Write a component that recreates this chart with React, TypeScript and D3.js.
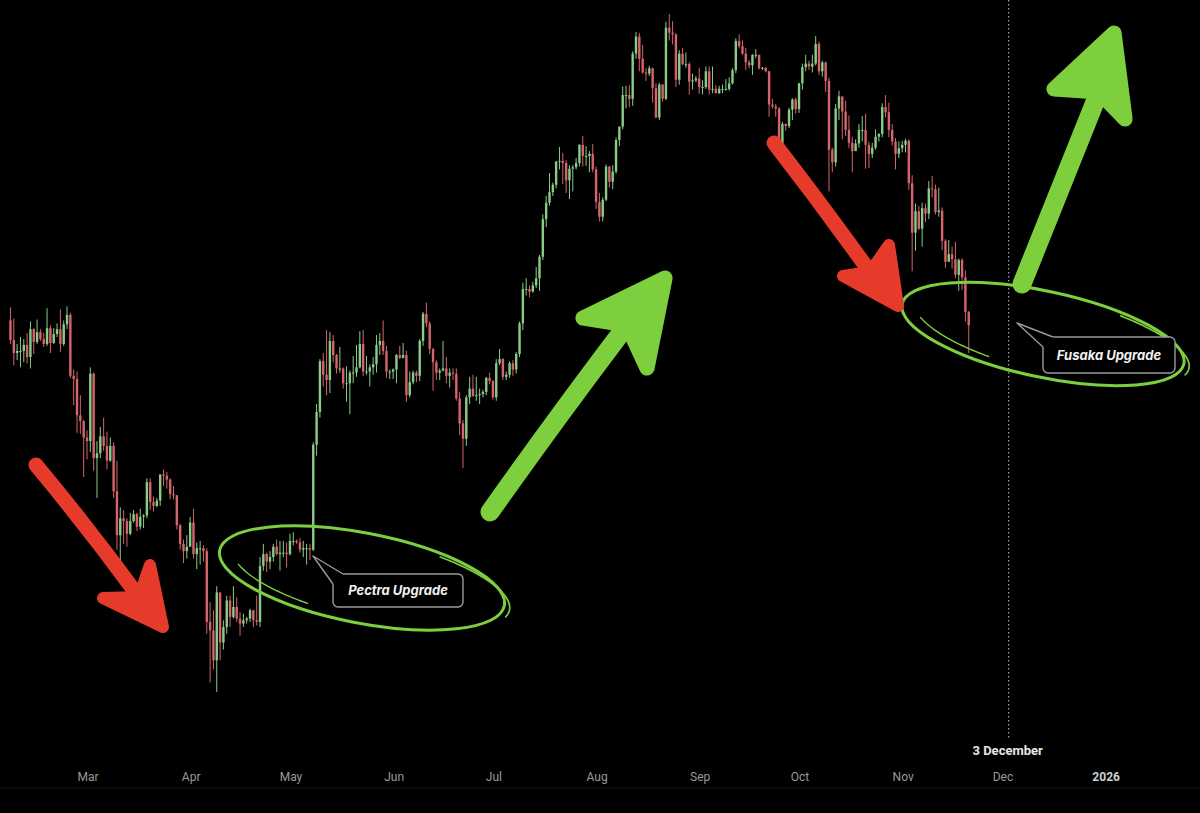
import React from "react";
import * as d3 from "d3";

type HLC = [number, number, number]; // high, low, close (open = previous close)

const START = Date.UTC(2025, 1, 6);
const FIRST_OPEN = 2785;

const feb: HLC[] = [
  [2855, 2665, 2685], [2795, 2560, 2620], [2665, 2585, 2630], [2700, 2550, 2630], [2690, 2575, 2660],
  [2720, 2570, 2600], [2780, 2545, 2740], [2745, 2615, 2675], [2790, 2665, 2725], [2740, 2680, 2690],
  [2720, 2650, 2665], [2850, 2655, 2745], [2760, 2620, 2670], [2745, 2665, 2715], [2770, 2700, 2740],
  [2845, 2625, 2665], [2785, 2655, 2765], [2860, 2740, 2815], [2825, 2500, 2510], [2540, 2375, 2495],
  [2530, 2255, 2330], [2420, 2250, 2305], [2310, 2075, 2235],
];
const mar: HLC[] = [
  [2265, 2145, 2220], [2550, 2175, 2520], [2525, 2100, 2150], [2220, 1995, 2170], [2280, 2150, 2240],
  [2320, 2180, 2200], [2260, 2105, 2140], [2235, 2135, 2200], [2215, 1995, 2020], [2140, 1810, 1860],
  [1960, 1755, 1920], [1950, 1830, 1910], [1920, 1820, 1865], [1940, 1860, 1910], [1950, 1905, 1935],
  [1940, 1875, 1890], [1955, 1880, 1925], [1935, 1885, 1930], [2070, 1920, 2055], [2070, 1950, 1980],
  [2000, 1945, 1965], [1995, 1960, 1985], [2085, 1965, 2085], [2105, 2040, 2080], [2095, 2030, 2065],
  [2070, 1990, 2010], [2040, 1990, 2005], [2005, 1880, 1895], [1900, 1810, 1830], [1845, 1765, 1805],
  [1860, 1780, 1820],
];
const apr: HLC[] = [
  [1925, 1820, 1905], [1955, 1780, 1795], [1835, 1745, 1815], [1840, 1760, 1815], [1825, 1770, 1805],
  [1815, 1545, 1580], [1640, 1410, 1555], [1615, 1445, 1470], [1690, 1385, 1670], [1670, 1470, 1520],
  [1585, 1500, 1565], [1660, 1545, 1645], [1660, 1565, 1595], [1690, 1590, 1625], [1655, 1580, 1590],
  [1610, 1540, 1575], [1605, 1565, 1585], [1595, 1575, 1590], [1620, 1580, 1615], [1615, 1565, 1585],
  [1660, 1570, 1580], [1785, 1565, 1755], [1830, 1740, 1795], [1800, 1735, 1770], [1805, 1745, 1785],
  [1830, 1770, 1820], [1845, 1790, 1795], [1840, 1740, 1800], [1840, 1785, 1800], [1835, 1750, 1795],
];
const may: HLC[] = [
  [1865, 1790, 1840], [1870, 1825, 1840], [1845, 1830, 1835], [1850, 1800, 1810], [1840, 1785, 1815],
  [1830, 1760, 1815], [1830, 1775, 1810], [2215, 1805, 2205], [2380, 2160, 2345], [2590, 2320, 2580],
  [2620, 2460, 2515], [2735, 2420, 2490], [2725, 2430, 2680], [2710, 2575, 2610], [2615, 2520, 2545],
  [2650, 2525, 2545], [2550, 2450, 2475], [2555, 2390, 2475], [2535, 2335, 2525], [2605, 2475, 2525],
  [2660, 2505, 2550], [2730, 2545, 2665], [2735, 2510, 2530], [2605, 2515, 2530], [2565, 2460, 2550],
  [2600, 2515, 2565], [2710, 2525, 2660], [2720, 2610, 2680], [2785, 2610, 2630], [2655, 2500, 2530],
  [2540, 2495, 2530],
];
const jun: HLC[] = [
  [2545, 2495, 2540], [2615, 2475, 2610], [2655, 2590, 2595], [2670, 2595, 2610], [2630, 2390, 2420],
  [2530, 2410, 2480], [2535, 2470, 2525], [2535, 2480, 2510], [2690, 2485, 2680], [2830, 2655, 2820],
  [2880, 2750, 2770], [2780, 2615, 2640], [2645, 2440, 2575], [2585, 2490, 2525], [2545, 2490, 2535],
  [2680, 2530, 2545], [2600, 2475, 2510], [2545, 2455, 2525], [2545, 2490, 2520], [2545, 2395, 2405],
  [2435, 2245, 2295], [2310, 2110, 2230], [2420, 2200, 2410], [2505, 2380, 2450], [2515, 2415, 2415],
  [2505, 2395, 2420], [2450, 2380, 2425], [2445, 2410, 2435], [2505, 2420, 2500], [2525, 2470, 2485],
];
const jul: HLC[] = [
  [2490, 2400, 2410], [2590, 2395, 2570], [2640, 2560, 2590], [2595, 2490, 2505], [2530, 2490, 2515],
  [2580, 2500, 2570], [2585, 2510, 2540], [2625, 2520, 2615], [2780, 2600, 2770], [2990, 2735, 2955],
  [3015, 2920, 2955], [2975, 2910, 2940], [2995, 2935, 2975], [3080, 2960, 3015], [3150, 2945, 3140],
  [3400, 3120, 3370], [3520, 3320, 3475], [3675, 3455, 3545], [3610, 3520, 3595], [3760, 3570, 3755],
  [3860, 3700, 3760], [3815, 3600, 3745], [3765, 3540, 3625], [3730, 3500, 3705], [3730, 3550, 3715],
  [3780, 3700, 3745], [3880, 3720, 3875], [3940, 3720, 3795], [3865, 3725, 3795], [3830, 3680, 3810],
  [3880, 3680, 3700],
];
const aug: HLC[] = [
  [3720, 3435, 3480], [3540, 3355, 3385], [3510, 3355, 3495], [3735, 3485, 3720], [3725, 3575, 3615],
  [3730, 3565, 3685], [3930, 3670, 3910], [4010, 3865, 4010], [4325, 3990, 4255], [4330, 4150, 4255],
  [4335, 4160, 4225], [4620, 4170, 4600], [4790, 4555, 4750], [4780, 4450, 4555], [4675, 4430, 4440],
  [4475, 4370, 4430], [4495, 4410, 4475], [4480, 4195, 4310], [4350, 4075, 4080], [4355, 4060, 4340],
  [4345, 4205, 4225], [4885, 4215, 4830], [4956, 4715, 4785], [4890, 4680, 4770], [4780, 4320, 4380],
  [4630, 4340, 4600], [4650, 4500, 4510], [4610, 4480, 4510], [4525, 4260, 4365], [4430, 4300, 4375],
  [4410, 4360, 4390],
];
const sep: HLC[] = [
  [4480, 4265, 4320], [4375, 4260, 4320], [4490, 4305, 4450], [4490, 4260, 4300], [4490, 4270, 4305],
  [4335, 4270, 4270], [4330, 4265, 4305], [4340, 4270, 4305], [4385, 4290, 4305], [4400, 4290, 4350],
  [4475, 4340, 4460], [4735, 4435, 4710], [4770, 4645, 4665], [4715, 4590, 4600], [4650, 4460, 4525],
  [4545, 4475, 4500], [4595, 4420, 4590], [4640, 4560, 4590], [4590, 4465, 4475], [4485, 4460, 4480],
  [4485, 4440, 4450], [4455, 4085, 4180], [4225, 4150, 4165], [4185, 4085, 4150], [4160, 3830, 3870],
  [4045, 3840, 4030], [4035, 3980, 4015], [4155, 4000, 4140], [4230, 4060, 4220], [4235, 4110, 4145],
];
const oct: HLC[] = [
  [4355, 4115, 4350], [4515, 4300, 4485], [4590, 4450, 4515], [4540, 4460, 4490], [4590, 4440, 4515],
  [4755, 4500, 4685], [4705, 4420, 4450], [4540, 4405, 4525], [4530, 4280, 4370], [4395, 3550, 3840],
  [3855, 3680, 3750], [4185, 3720, 4150], [4290, 4060, 4245], [4235, 3915, 4125], [4210, 3940, 3985],
  [4095, 3850, 3890], [3935, 3680, 3830], [3915, 3830, 3885], [4030, 3855, 3985], [4090, 3900, 3985],
  [4110, 3705, 3875], [3900, 3710, 3810], [3890, 3780, 3855], [3990, 3840, 3935], [3960, 3900, 3955],
  [4190, 3930, 4160], [4255, 4080, 4120], [4195, 3930, 3985], [4030, 3870, 3900], [3925, 3700, 3810],
  [3900, 3780, 3850],
];
const nov: HLC[] = [
  [3905, 3820, 3875], [3920, 3820, 3905], [3915, 3560, 3605], [3660, 3055, 3285], [3470, 3175, 3420],
  [3455, 3300, 3310], [3475, 3200, 3440], [3470, 3350, 3405], [3620, 3370, 3570], [3655, 3510, 3565],
  [3595, 3400, 3415], [3575, 3385, 3425], [3445, 3180, 3235], [3245, 3075, 3110], [3240, 3115, 3155],
  [3200, 3070, 3125], [3230, 3015, 3035], [3130, 2945, 3120], [3130, 2950, 3020], [3060, 2780, 2830],
  [2835, 2620, 2760],
];

const monthLabels = ["Mar", "Apr", "May", "Jun", "Jul", "Aug", "Sep", "Oct", "Nov", "Dec", "2026"];
const monthDates = [
  Date.UTC(2025, 2, 1), Date.UTC(2025, 3, 1), Date.UTC(2025, 4, 1), Date.UTC(2025, 5, 1),
  Date.UTC(2025, 6, 1), Date.UTC(2025, 7, 1), Date.UTC(2025, 8, 1), Date.UTC(2025, 9, 1),
  Date.UTC(2025, 10, 1), Date.UTC(2025, 11, 1), Date.UTC(2026, 0, 1),
];
const markerDate = Date.UTC(2025, 11, 3);
const markerLabel = "3 December";
const calloutLabels = ["Pectra Upgrade", "Fusaka Upgrade"];

const GREEN = "#8acb87";
const RED = "#d6646c";
const ARROW_RED = "#e63b2a";
const ARROW_GREEN = "#7dcf3e";

type Pt = [number, number];

function Arrow({ from, mid, tip, w1, w2, notch, color, width }: {
  from: Pt; mid: Pt; tip: Pt; w1: Pt; w2: Pt; notch: Pt; color: string; width: number;
}) {
  const shaft = `M${from[0]},${from[1]} Q${mid[0]},${mid[1]} ${notch[0]},${notch[1]}`;
  const head = `M${w1[0]},${w1[1]} L${tip[0]},${tip[1]} L${w2[0]},${w2[1]} L${notch[0]},${notch[1]} Z`;
  return (
    <g>
      <path d={shaft} fill="none" stroke={color} strokeWidth={width} strokeLinecap="round" />
      <path d={head} fill={color} stroke={color} strokeWidth={width * 0.8} strokeLinejoin="round" />
    </g>
  );
}

function Callout({ x, y, w, h, tip, label }: { x: number; y: number; w: number; h: number; tip: Pt; label: string }) {
  const p1: Pt = [x + 9, y];
  const p2: Pt = [x, y + 9];
  return (
    <g>
      <rect x={x} y={y} width={w} height={h} rx={5} fill="#000" stroke="#9a9a9a" strokeWidth={1.4} />
      <path d={`M${p2[0]},${p2[1] + 1} L${tip[0]},${tip[1]} L${p1[0] + 1},${p1[1]}`} fill="#000" stroke="#9a9a9a" strokeWidth={1.4} strokeLinejoin="round" />
      <path d={`M${p2[0] + 1},${p2[1] + 1} L${p1[0] + 1},${p1[1] + 1}`} stroke="#000" strokeWidth={2.5} />
      <text x={x + w / 2} y={y + h / 2 + 4.5} textAnchor="middle" fill="#f2f2f2"
        style={{ fontFamily: "Inter, 'Open Sans', sans-serif", fontStyle: "italic", fontWeight: 700, fontSize: 13 }}>
        {label}
      </text>
    </g>
  );
}

function arcPath(cx: number, cy: number, rx: number, ry: number, rotDeg: number, t0: number, t1: number) {
  const r = (rotDeg * Math.PI) / 180;
  const pts: Pt[] = d3.range(0, 41).map((i) => {
    const t = ((t0 + ((t1 - t0) * i) / 40) * Math.PI) / 180;
    const ex = rx * Math.cos(t);
    const ey = ry * Math.sin(t);
    return [cx + ex * Math.cos(r) - ey * Math.sin(r), cy + ex * Math.sin(r) + ey * Math.cos(r)];
  });
  return d3.line()(pts) || "";
}

function Loop({ cx, cy, rx, ry, rot }: { cx: number; cy: number; rx: number; ry: number; rot: number }) {
  return (
    <g fill="none" stroke={ARROW_GREEN} strokeLinecap="round">
      <ellipse cx={cx} cy={cy} rx={rx} ry={ry} transform={`rotate(${rot} ${cx} ${cy})`} strokeWidth={3} />
      <path d={arcPath(cx + 2, cy, rx + 4, ry - 3, rot + 1.5, -62, 10)} strokeWidth={1.7} />
      <path d={arcPath(cx + 4, cy - 3, rx - 8, ry - 2, rot + 1, 112, 158)} strokeWidth={1.4} />
    </g>
  );
}

export default function App() {
  const W = 1200;
  const H = 813;
  const x = d3.scaleUtc().domain([new Date(Date.UTC(2025, 2, 1)), new Date(Date.UTC(2025, 11, 1))]).range([88, 1003]);
  const y = d3.scaleLog().domain([1385, 4956]).range([692, 14]);

  const all = [feb, mar, apr, may, jun, jul, aug, sep, oct, nov].flat();
  let prev = FIRST_OPEN;
  const candles = all.map((d, i) => {
    const o = prev;
    prev = d[2];
    return { date: d3.utcDay.offset(new Date(START), i), o, h: d[0], l: d[1], c: d[2] };
  });
  const bw = 2.4;
  const mx = x(new Date(markerDate));

  return (
    <>
      <style>{`body{margin:0;background:#000;}`}</style>
      <svg width={W} height={H} style={{ display: "block", background: "#000" }}>
        <rect x={0} y={0} width={W} height={H} fill="#000" />
        {/* marker line */}
        <line x1={mx - 1} x2={mx - 1} y1={0} y2={738} stroke="#9a9a9a" strokeWidth={1.3} strokeDasharray="1.5 2.5" />
        {/* candles */}
        <g>
          {candles.map((k, i) => {
            const cx = x(k.date) - 1;
            const up = k.c >= k.o;
            const col = up ? GREEN : RED;
            const top = y(Math.max(k.o, k.c));
            const bot = y(Math.min(k.o, k.c));
            return (
              <g key={i}>
                <line x1={cx} x2={cx} y1={y(k.h)} y2={y(k.l)} stroke={col} strokeWidth={1} />
                <rect x={cx - bw / 2} y={top} width={bw} height={Math.max(1, bot - top)} fill={col} />
              </g>
            );
          })}
        </g>
        {/* axis labels */}
        <line x1={0} x2={W} y1={788} y2={788} stroke="#161616" strokeWidth={1} />
        {monthLabels.map((m, i) => (
          <text key={m} x={x(new Date(monthDates[i]))} y={781} textAnchor="middle"
            fill={m === "2026" ? "#cfcfcf" : "#9a9a9a"}
            style={{ fontFamily: "Roboto, 'Liberation Sans', sans-serif", fontSize: 12, fontWeight: m === "2026" ? 700 : 400 }}>
            {m}
          </text>
        ))}
        <text x={mx - 2} y={755} textAnchor="middle" fill="#e6e6e6"
          style={{ fontFamily: "Roboto, 'Liberation Sans', sans-serif", fontSize: 13, fontWeight: 700 }}>
          {markerLabel}
        </text>

        {/* annotation loops */}
        <Loop cx={362} cy={578} rx={145} ry={45} rot={11} />
        <Loop cx={1043} cy={334} rx={144} ry={43} rot={12} />

        {/* callouts */}
        <Callout x={333} y={574} w={130} h={33} tip={[313, 556]} label={calloutLabels[0]} />
        <Callout x={1043} y={337} w={132} h={36} tip={[1017, 323]} label={calloutLabels[1]} />

        {/* arrows */}
        <Arrow from={[36, 465]} mid={[90, 530]} notch={[139, 597]} tip={[163, 627]} w1={[103, 598]} w2={[150, 565]} color={ARROW_RED} width={15} />
        <Arrow from={[774, 143]} mid={[822, 205]} notch={[870, 272]} tip={[898, 306]} w1={[843, 276]} w2={[889, 245]} color={ARROW_RED} width={15} />
        <Arrow from={[490, 512]} mid={[555, 420]} notch={[627, 325]} tip={[665, 278]} w1={[583, 318]} w2={[647, 368]} color={ARROW_GREEN} width={19} />
        <Arrow from={[1022, 284]} mid={[1060, 190]} notch={[1099, 92]} tip={[1114, 33]} w1={[1054, 89]} w2={[1125, 119]} color={ARROW_GREEN} width={19} />
      </svg>
    </>
  );
}
